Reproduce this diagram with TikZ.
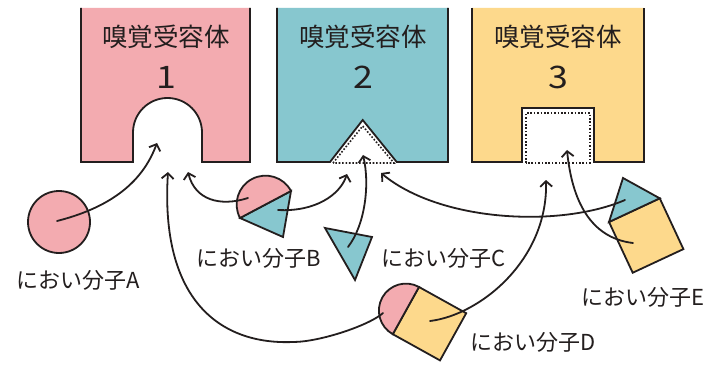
\documentclass[tikz,border=0pt]{standalone}
\usepackage{fontspec}
\setmainfont{Noto Sans CJK JP}
\usetikzlibrary{arrows.meta}
\definecolor{rpink}{RGB}{243,171,176}
\definecolor{rteal}{RGB}{135,199,207}
\definecolor{ryel}{RGB}{253,217,140}
\definecolor{ink}{RGB}{35,30,30}
\begin{document}
\begin{tikzpicture}[x=1pt,y=-1pt,
  outline/.style={draw=ink, line width=1.8pt, line join=miter},
  dotline/.style={draw=ink, line width=1.6pt, dash pattern=on 1.6pt off 1.8pt},
  conn/.style={draw=ink, line width=1.8pt, line cap=round, -{Straight Barb[length=5.5pt,width=12pt]}},
  rtitle/.style={font=\fontsize{25.5}{25.5}\selectfont, text=ink, inner sep=0pt},
  rnum/.style={font=\fontsize{31}{31}\selectfont, text=ink, inner sep=0pt, xscale=1.15},
  mlabel/.style={font=\fontsize{22}{22}\selectfont, text=ink, inner sep=0pt}]
\useasboundingbox (0,0) rectangle (711,366);
\fill[white] (0,0) rectangle (711,366);

% receptor 1
\fill[rpink] (81,8) -- (81,162) -- (133,162) -- (133,132.5)
  .. controls (133,113.45) and (148.45,98) .. (167.5,98)
  .. controls (186.55,98) and (202,113.45) .. (202,132.5)
  -- (202,162) -- (250,162) -- (250,8) -- cycle;
\draw[outline] (81,8) -- (81,162) -- (133,162) -- (133,132.5)
  .. controls (133,113.45) and (148.45,98) .. (167.5,98)
  .. controls (186.55,98) and (202,113.45) .. (202,132.5)
  -- (202,162) -- (250,162) -- (250,8);
% receptor 2
\fill[rteal] (277,8) -- (277,162) -- (330,162) -- (362.7,120) -- (396.7,162) -- (448,162) -- (448,8) -- cycle;
\draw[outline] (277,8) -- (277,162) -- (330,162) -- (362.7,120) -- (396.7,162) -- (448,162) -- (448,8);
\draw[dotline] (333,163) -- (362.7,126) -- (394,163) -- cycle;
% receptor 3
\fill[ryel] (472,8) -- (472,162) -- (522,162) -- (522,108) -- (594,108) -- (594,162) -- (644,162) -- (644,8) -- cycle;
\draw[outline] (472,8) -- (472,162) -- (522,162) -- (522,108) -- (594,108) -- (594,162) -- (644,162) -- (644,8);
\draw[dotline] (526,163) rectangle (590,113);

\node[rtitle] (t1) at (166,37) {嗅覚受容体};
\node[rtitle] (t2) at (363,37) {嗅覚受容体};
\node[rtitle] (t3) at (558,37) {嗅覚受容体};
\node[rnum] (n1) at (166,77) {1};
\node[rnum] (n2) at (363,77) {2};
\node[rnum] (n3) at (558,77) {3};

% molecule A
\filldraw[fill=rpink, outline] (59,222) circle (31);
% molecule B
\filldraw[fill=rteal, outline] (240,218) -- (291,191) -- (283,237) -- cycle;
\filldraw[fill=rpink, outline] (240,218) arc (152.1:332.1:28.85) -- cycle;
% molecule C
\filldraw[fill=rteal, outline] (325,228) -- (372,237) -- (355,280) -- cycle;
% molecule D
\filldraw[fill=ryel, outline] (419,287) -- (466.2,313.2) -- (440,360.4) -- (392.8,334.2) -- cycle;
\filldraw[fill=rpink, outline] (392.8,334.2) arc (119:299:27) -- cycle;
% molecule E
\filldraw[fill=ryel, outline] (609,222) -- (659.75,198.33) -- (683.4,249.1) -- (632.7,272.75) -- cycle;
\filldraw[fill=rteal, outline] (609,222) -- (623,178) -- (659.75,198.33) -- cycle;

\node[mlabel] (la) at (78,280) {におい分子A};
\node[mlabel] (lb) at (259,258) {におい分子B};
\node[mlabel] (lc) at (444,258) {におい分子C};
\node[mlabel] (ld) at (533,342) {におい分子D};
\node[mlabel] (le) at (643,297) {におい分子E};

% connector endpoints
\coordinate (sA) at (57,221);   \coordinate (tA) at (157,143);
\coordinate (sB1) at (248,198); \coordinate (tB1) at (188,172);
\coordinate (sB2) at (278,210); \coordinate (tB2) at (347,174);
\coordinate (sC) at (348,247);  \coordinate (tC) at (363,155);
\coordinate (sD1) at (383,313); \coordinate (mD1) at (293,342); \coordinate (tD1) at (168,172);
\coordinate (sD2) at (430,321); \coordinate (tD2) at (546,180);
\coordinate (sE1) at (625,200); \coordinate (tE1) at (381,173);
\coordinate (sE2) at (633,243); \coordinate (tE2) at (567,150);

\draw[conn] (sA) .. controls (120,205) and (145,175) .. (tA);
\draw[conn] (sB1) .. controls (220,207) and (195,200) .. (tB1);
\draw[conn] (sB2) .. controls (315,212) and (340,195) .. (tB2);
\draw[conn] (sC) .. controls (365,225) and (370,185) .. (tC);
\draw[conn] (sD1) .. controls (370,325) and (320,342) .. (mD1)
  .. controls (220,345) and (160,300) .. (tD1);
\draw[conn] (sD2) .. controls (480,315) and (548,260) .. (tD2);
\draw[conn] (sE1) .. controls (560,228) and (440,222) .. (tE1);
\draw[conn] (sE2) .. controls (590,238) and (572,200) .. (tE2);
\end{tikzpicture}
\end{document}
